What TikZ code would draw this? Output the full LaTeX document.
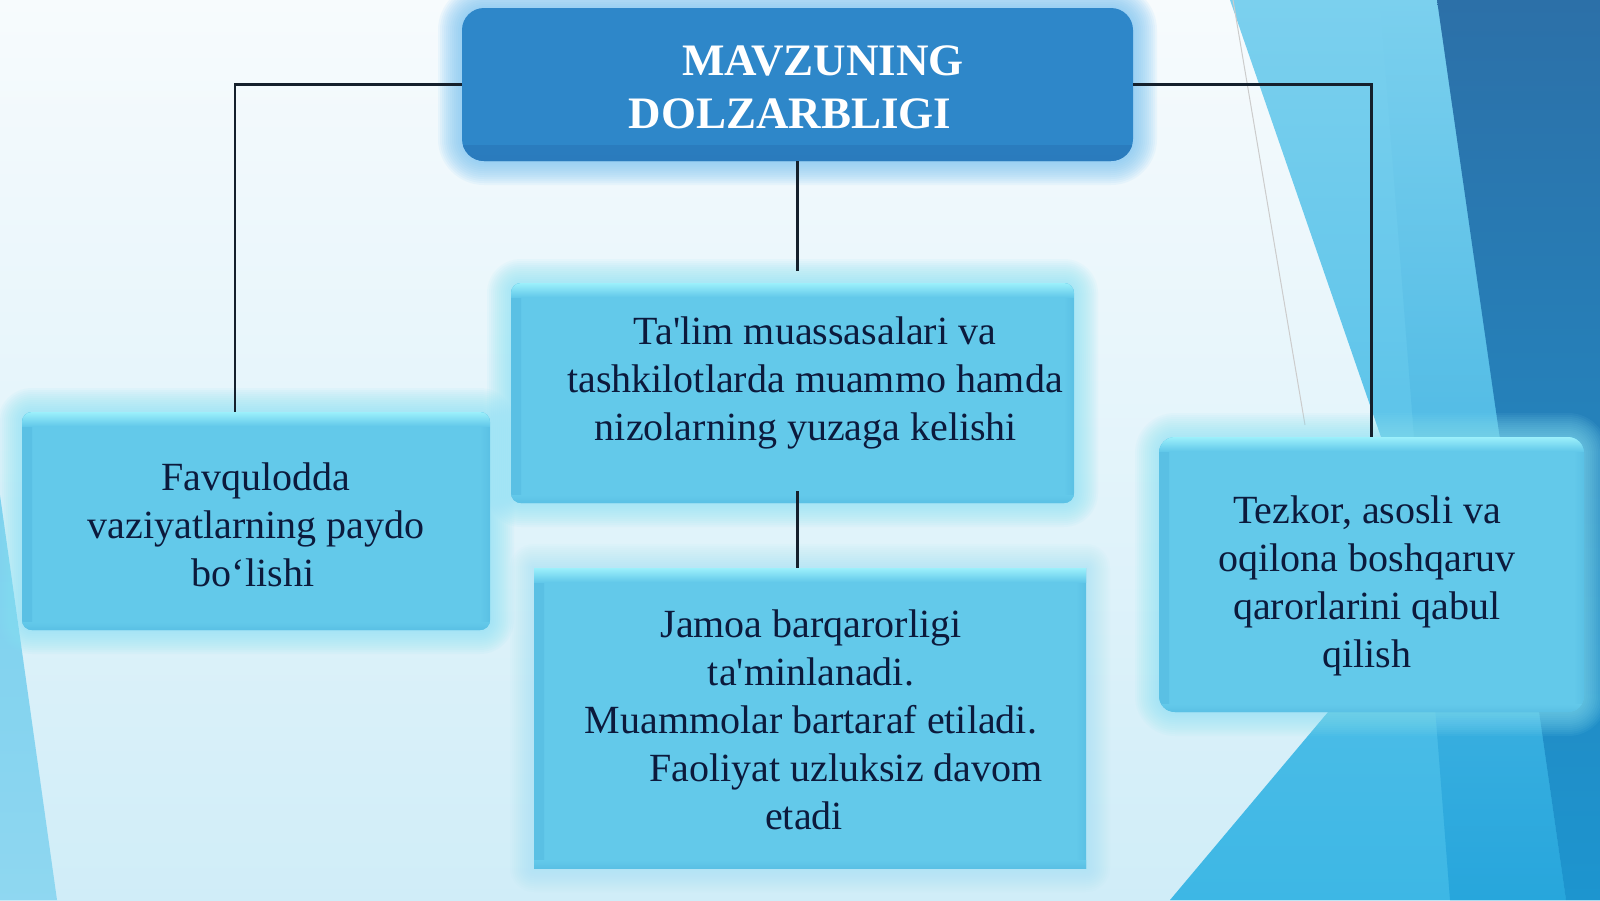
\documentclass[tikz,border=0pt]{standalone}
\usepackage{fontspec}
\setmainfont{Liberation Serif}
\usepackage{tikz}
\usepackage{xcolor}
\usetikzlibrary{backgrounds}

\definecolor{bgtop}{HTML}{F7FBFD}
\definecolor{bgbot}{HTML}{D0EDF8}
\definecolor{skyA}{HTML}{7BD0EE}
\definecolor{skyB}{HTML}{3DB7E5}
\definecolor{skyC}{HTML}{27A6DC}
\definecolor{deepA}{HTML}{2C70A8}
\definecolor{deepB}{HTML}{1D95CF}
\definecolor{ttlc}{HTML}{2E87C9}
\definecolor{ttldark}{HTML}{2A7BBD}
\definecolor{haloA}{HTML}{78C3F3}
\definecolor{haloB}{HTML}{8CE4F5}
\definecolor{boxc}{HTML}{63C9EA}
\definecolor{topc}{HTML}{9CF0FB}
\definecolor{sidec}{HTML}{5AC0E4}
\definecolor{inkc}{HTML}{0C1A3C}
\definecolor{linec}{HTML}{15202C}

\tikzset{
  titlebox/.style={fill=ttlc, rounded corners=22pt, inner sep=0pt, outer sep=0pt,
    path picture={\shade[sharp corners, top color=ttlc, bottom color=ttldark] ([yshift=16pt]path picture bounding box.south west) rectangle (path picture bounding box.south east);}},
  lightbox/.style={fill=boxc, inner sep=0pt, outer sep=0pt,
    path picture={
      \shade[sharp corners, left color=sidec, right color=boxc] (path picture bounding box.south west) rectangle ([xshift=10pt]path picture bounding box.north west);
      \shade[sharp corners, right color=sidec, left color=boxc] (path picture bounding box.south east) rectangle ([xshift=-10pt]path picture bounding box.north east);
      \shade[sharp corners, bottom color=sidec, top color=boxc] (path picture bounding box.south west) rectangle ([yshift=8pt]path picture bounding box.south east);
      \shade[sharp corners, top color=topc, bottom color=boxc] (path picture bounding box.north west) rectangle ([yshift=-14pt]path picture bounding box.north east);}},
  txt/.style={text=inkc, align=center, inner sep=0pt, font=\fontsize{40pt}{48pt}\selectfont},
  link/.style={draw=linec, line width=2.6pt},
}

\begin{document}
\begin{tikzpicture}[x=1pt, y=-1pt]
\useasboundingbox (0,0) rectangle (1600,900);
\node[titlebox, minimum width=671pt, minimum height=153pt] (title) at (797.5,84.5) {};
\node[lightbox, rounded corners=10pt, minimum width=563pt, minimum height=220pt] (midbox) at (792.5,393) {};
\node[lightbox, rounded corners=10pt, minimum width=468pt, minimum height=218pt] (leftbox) at (256,521) {};
\node[lightbox, minimum width=552pt, minimum height=300pt] (lowbox) at (810,718) {};
\node[lightbox, rounded corners=16pt, minimum width=425pt, minimum height=275pt] (rightbox) at (1371.5,574.5) {};

\node[txt, text=white, font=\fontsize{45pt}{53pt}\selectfont\bfseries] (ttltext) at (790,87) {\hspace*{66pt}MAVZUNING\\DOLZARBLIGI};
\node[txt] (midtext) at (815,383) {Ta\textquotesingle lim muassasalari va\\tashkilotlarda muammo hamda\\nizolarning yuzaga kelishi\hspace*{18pt}};
\node[txt] (lefttext) at (256,525) {Favqulodda\\vaziyatlarning paydo\\bo‘lishi\hspace*{6pt}};
\node[txt] (lowtext) at (811,720) {Jamoa barqarorligi\\ta\textquotesingle minlanadi.\\Muammolar bartaraf etiladi.\\\hspace*{70pt}Faoliyat uzluksiz davom\\etadi\hspace*{14pt}};
\node[txt] (righttext) at (1367,586) {Tezkor, asosli va\\oqilona boshqaruv\\qarorlarini qabul\\qilish};

\coordinate (c1) at ([yshift=12pt]midbox.north);
\coordinate (c2) at ([yshift=12pt]midbox.south);
\draw[link] (title.west) -| ([xshift=-21pt]leftbox.north);
\draw[link] (title.east) -| (rightbox.north);
\draw[link] (title.south) -- (title.south |- c1);
\draw[link] (title.south |- c2) -- (title.south |- lowbox.north);

\begin{scope}[on background layer]
\shade[top color=bgtop, bottom color=bgbot] (0,0) rectangle (1600,900);
\shade[top color=skyA, bottom color=skyB] (1230,0) -- (1600,0) -- (1600,900) -- (1170,900) -- (1328,712) -- (1382,440) -- cycle;
\shade[top color=skyA, bottom color=skyC] (1380,0) -- (1437,0) -- (1566,900) -- (1450,900) -- cycle;
\shade[top color=deepA, bottom color=deepB] (1437,0) -- (1600,0) -- (1600,900) -- (1566,900) -- cycle;
\shade[top color=skyA, bottom color=skyA!85!white] (0,495) -- (57,900) -- (0,900) -- cycle;
\draw[gray!40, line width=1pt] (1233,0) -- (1305,425);
\foreach \b/\r/\c/\o in {title/22/haloA/0.09, midbox/10/haloB/0.08, leftbox/10/haloB/0.08, rightbox/16/haloB/0.07, lowbox/0/haloB/0.04}
  \foreach \g in {2,4,...,24}
    \fill[\c, opacity=\o, rounded corners=\r pt+\g pt] ([xshift=-\g pt, yshift=\g pt]\b.north west) rectangle ([xshift=\g pt, yshift=-\g pt]\b.south east);
\end{scope}
\end{tikzpicture}
\end{document}
